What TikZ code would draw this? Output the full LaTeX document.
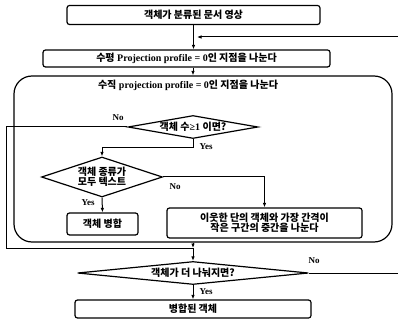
\documentclass[tikz,border=0pt]{standalone}
\usepackage{fontspec}
\setmainfont{Liberation Serif}
\newfontfamily\krfont{Noto Sans CJK KR}
\newcommand{\kr}[1]{{\krfont\bfseries #1}}
\usetikzlibrary{shapes.geometric,arrows.meta}
\begin{document}
\begin{tikzpicture}[x=1pt,y=-1pt,
  font=\bfseries\fontsize{10}{11}\selectfont,
  box/.style={draw, rounded corners=2.5pt, line width=1.2pt, inner sep=0pt, align=center},
  dia/.style={draw, diamond, line width=1.2pt, inner sep=0pt, align=center},
  arr/.style={-{Latex[length=4.5pt,width=3.5pt]}, line width=1pt},
  ln/.style={line width=1pt},
  lab/.style={font=\bfseries\fontsize{9}{10}\selectfont, inner sep=0pt}]
\clip (0,0) rectangle (398,320);
\fill[white] (0,0) rectangle (398,320);
% nodes
\node[box, minimum width=253pt, minimum height=19pt] (top) at (193.5,15) {\kr{객체가 분류된 문서 영상}};
\node[box, minimum width=287pt, minimum height=17pt] (hp) at (186.5,58.5) {\kr{수평} Projection profile = 0\kr{인 지점을 나눈다}};
\node[draw, rounded corners=18pt, line width=1.2pt, minimum width=378pt, minimum height=166pt] (big) at (203,159) {};
\node (vt) at (188,85) {\kr{수직} projection profile = 0\kr{인 지점을 나눈다}};
\node[dia, minimum width=130pt, minimum height=23pt, aspect=5.6] (d1) at (193,127) {\kr{객체 수}≥1 \kr{이면?}};
\node[dia, minimum width=121pt, minimum height=40pt, aspect=3] (d2) at (102,177) {\kr{객체 종류가}\\[-1.5pt]\kr{모두 텍스트}};
\node[box, minimum width=71pt, minimum height=22pt] (merge) at (102.5,224) {\kr{객체 병합}};
\node[box, minimum width=195pt, minimum height=30pt] (split) at (264.5,223) {\kr{이웃한 단의 객체와 가장 간격이}\\[-1pt]\kr{작은 구간의 중간을 나눈다}};
\node[dia, minimum width=231pt, minimum height=23pt, aspect=10] (d3) at (193,273) {\kr{객체가 더 나눠지면?}};
\node[box, minimum width=236pt, minimum height=18pt] (res) at (193,309) {\kr{병합된 객체}};
\coordinate (j) at (193,248);
\coordinate (fb) at (197,37);
% connectors
\draw[arr] (top.south) -- (top.south |- hp.north);
\draw[arr] (d3.east) -- (402,273) -- (402,37) -- (fb);
\draw[arr] (hp.south -| d1) -- (big.north -| d1);
\draw[ln] (d1.west) -- (6,127) -- (6,248) -- (j);
\draw[arr] (big.south -| d1) -- (j);
\draw[arr] (j) -- (d3.north);
\draw[arr] (d1.south) -- ++(0,8) -| (d2.north);
\draw[arr] (d2.east) -| (split.north);
\draw[arr] (d2.south) -- (merge.north);
\draw[arr] (d3.south) -- (res.north);
% labels
\node[lab] (l1) at (118,118) {No};
\node[lab] (l2) at (206,147) {Yes};
\node[lab] (l3) at (175,187) {No};
\node[lab] (l4) at (88,203) {Yes};
\node[lab] (l5) at (314,261) {No};
\node[lab] (l6) at (206,292) {Yes};
\end{tikzpicture}
\end{document}
